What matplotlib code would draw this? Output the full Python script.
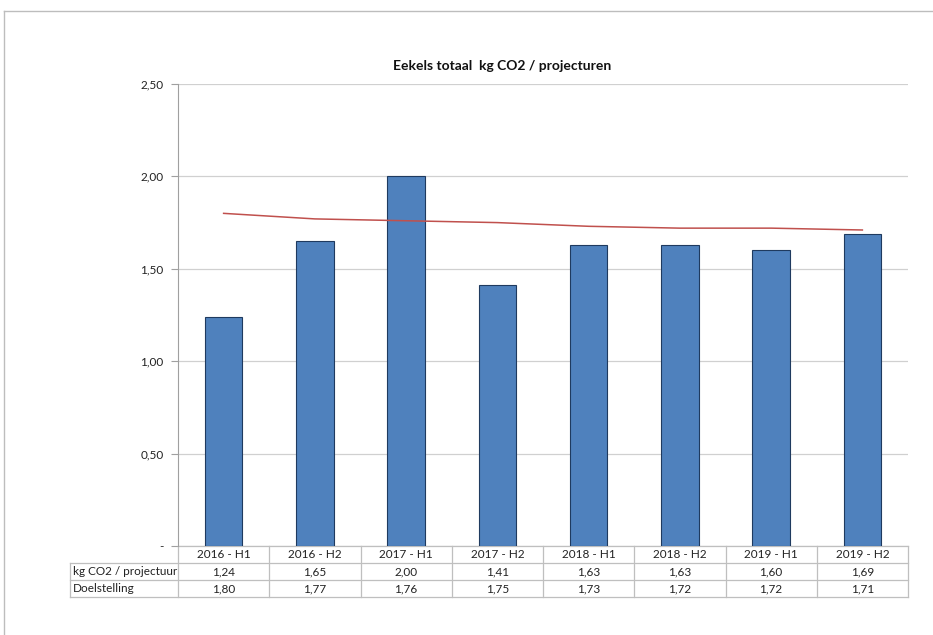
import matplotlib; matplotlib.use('Agg')
import matplotlib.pyplot as plt
from matplotlib.lines import Line2D
import matplotlib.transforms as mtransforms

plt.rcParams['font.family'] = ['Lato', 'DejaVu Sans']

periods = ['2016 - H1', '2016 - H2', '2017 - H1', '2017 - H2',
           '2018 - H1', '2018 - H2', '2019 - H1', '2019 - H2']
kg_co2 = [1.24, 1.65, 2.00, 1.41, 1.63, 1.63, 1.60, 1.69]
doelstelling = [1.80, 1.77, 1.76, 1.75, 1.73, 1.72, 1.72, 1.71]
row_labels = ['kg CO2 / projectuur', 'Doelstelling']
yticks = [0, 0.5, 1.0, 1.5, 2.0, 2.5]

W, H = 933, 635
fig = plt.figure(figsize=(W / 100, H / 100), dpi=100)
ax = fig.add_axes([178 / W, 1 - 546 / H, 730 / W, 462 / H])

x = list(range(len(periods)))
ax.bar(x, kg_co2, width=0.41, color='#4F81BD', edgecolor='#1F3A5F', lw=0.8, zorder=3)
ax.plot(x, doelstelling, color='#C0504D', lw=1.1, zorder=4)

ax.set_xlim(-0.5, len(periods) - 0.5)
ax.set_ylim(0, 2.5)
ax.set_yticks(yticks)
ax.set_yticklabels(['-' if v == 0 else f'{v:.2f}'.replace('.', ',') for v in yticks],
                   fontsize=8.5, color='#222222')
ax.tick_params(axis='y', length=5, color='#A0A0A0', width=0.8, pad=5.5)
ax.set_xticks([])
ax.grid(axis='y', color='#D0D0D0', lw=0.9, zorder=0)
for s in ['top', 'right', 'bottom']:
    ax.spines[s].set_visible(False)
ax.spines['left'].set_color('#A0A0A0')

fig.text(502 / W, 1 - 66 / H, 'Eekels totaal  kg CO2 / projecturen', fontsize=10,
         fontweight='bold', ha='center', va='center', color='#111111')

# data table beneath the plot
trans = mtransforms.blended_transform_factory(ax.transData, ax.transAxes)
rh = 17.0 / 462
left_x = -0.5 - 108 / (730 / len(periods))
lc = '#BFBFBF'
n = len(periods)
tops = [0, -rh, -2 * rh, -3 * rh]
ax.add_line(Line2D([-0.5, n - 0.5], [0, 0], transform=trans, color=lc, lw=0.9, clip_on=False))
for yv in tops[1:]:
    ax.add_line(Line2D([left_x, n - 0.5], [yv, yv], transform=trans, color=lc, lw=0.9, clip_on=False))
for xv in [i - 0.5 for i in range(n + 1)]:
    ax.add_line(Line2D([xv, xv], [0, tops[3]], transform=trans, color=lc, lw=0.9, clip_on=False))
ax.add_line(Line2D([left_x, left_x], [tops[1], tops[3]], transform=trans, color=lc, lw=0.9, clip_on=False))

for i, p in enumerate(periods):
    ax.text(i, -0.5 * rh, p, transform=trans, ha='center', va='center', fontsize=8.5, color='#222222')
    ax.text(i, -1.5 * rh, f'{kg_co2[i]:.2f}'.replace('.', ','), transform=trans,
            ha='center', va='center', fontsize=8.5, color='#222222')
    ax.text(i, -2.5 * rh, f'{doelstelling[i]:.2f}'.replace('.', ','), transform=trans,
            ha='center', va='center', fontsize=8.5, color='#222222')
for j, lab in enumerate(row_labels):
    ax.text(left_x + 0.03, -(1.5 + j) * rh, lab, transform=trans, ha='left', va='center',
            fontsize=8.5, color='#222222')

# figure frame
fig.add_artist(Line2D([4 / W, 1], [1 - 11 / H, 1 - 11 / H], color='#BDBDBD', lw=1))
fig.add_artist(Line2D([4 / W, 4 / W], [0, 1 - 11 / H], color='#BDBDBD', lw=1))

fig.savefig('out.png', dpi=100)
